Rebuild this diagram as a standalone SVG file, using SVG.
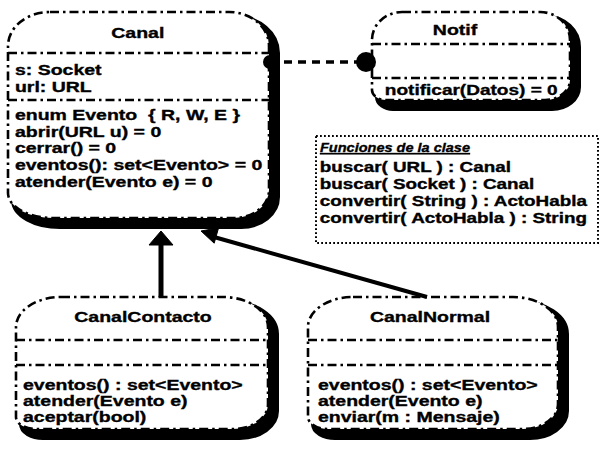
<svg xmlns="http://www.w3.org/2000/svg" width="601" height="450" viewBox="0 0 601 450">
  <style>
    .shadow { fill: #000; stroke: #000; stroke-width: 8; stroke-linejoin: round; }
    .box { fill: #fff; stroke: #000; stroke-width: 2.6; stroke-dasharray: 9 4 2.5 4; }
    .sep { fill: none; stroke: #000; stroke-width: 2.4; stroke-dasharray: 9 4 2.5 4; }
    .note { fill: #fff; stroke: #000; stroke-width: 2; stroke-dasharray: 1.8 2.2; }
    text { font-family: "Liberation Sans", Arial, sans-serif; font-weight: bold; font-size: 15px; fill: #000; stroke: #000; stroke-width: 0.35; }
    .name { text-anchor: middle; }
    .fn { font-size: 14.5px; }
    .fn-title { font-style: italic; text-decoration: underline; font-size: 13px; }
    .line { fill: none; stroke: #000; }
    .head { fill: #000; stroke: #000; stroke-width: 1; stroke-linejoin: round; }
  </style>

  <defs>
    <!-- class outlines: large top corners, tighter bottom-left corner -->
    <path id="shape-canal" d="M50,12 H229 A40,34 0 0 1 269,46 V190 A35,28 0 0 1 234,218 H53 A45,25 0 0 1 8,193 V46 A42,34 0 0 1 50,12 Z"/>
    <path id="shape-notif" d="M402,12 H540 A30,28 0 0 1 570,40 V80 A25,20 0 0 1 545,100 H386 A14,10 0 0 1 372,90 V40 A30,28 0 0 1 402,12 Z"/>
    <path id="shape-contacto" d="M61,297 H223 A45,30 0 0 1 268,327 V404 A35,25 0 0 1 233,429 H36 A20,12 0 0 1 16,417 V327 A45,30 0 0 1 61,297 Z"/>
    <path id="shape-normal" d="M353,297 H513 A45,30 0 0 1 558,327 V404 A35,25 0 0 1 523,429 H328 A20,12 0 0 1 308,417 V327 A45,30 0 0 1 353,297 Z"/>
  </defs>

  <rect width="601" height="450" fill="#fff"/>

  <!-- Canal -->
  <g id="canal">
    <use href="#shape-canal" class="shadow" transform="translate(7 7)"/>
    <use href="#shape-canal" class="box"/>
    <line class="sep" x1="8" y1="53" x2="269" y2="53"/>
    <line class="sep" x1="8" y1="100" x2="269" y2="100"/>
    <g transform="scale(1.3 1)">
      <text class="name" x="106" y="38">Canal</text>
      <text x="11.5" y="75">s: Socket</text>
      <text x="11.5" y="92">url: URL</text>
      <text x="11.5" y="120">enum Evento&#160; { R, W, E }</text>
      <text x="11.5" y="137">abrir(URL u) = 0</text>
      <text x="11.5" y="153">cerrar() = 0</text>
      <text x="11.5" y="170">eventos(): set&lt;Evento&gt; = 0</text>
      <text x="11.5" y="187">atender(Evento e) = 0</text>
    </g>
  </g>

  <!-- Notif -->
  <g id="notif">
    <use href="#shape-notif" class="shadow" transform="translate(7 7)"/>
    <use href="#shape-notif" class="box"/>
    <line class="sep" x1="372" y1="44" x2="570" y2="44"/>
    <line class="sep" x1="372" y1="78" x2="570" y2="78"/>
    <g transform="scale(1.3 1)">
      <text class="name" x="350" y="35">Notif</text>
      <text x="296" y="95" textLength="133" lengthAdjust="spacingAndGlyphs">notificar(Datos) = 0</text>
    </g>
  </g>

  <!-- Class functions note -->
  <g id="funciones">
    <rect class="note" x="316" y="136" width="282" height="107"/>
    <text class="fn-title" x="320" y="152" textLength="150" lengthAdjust="spacingAndGlyphs">Funciones de la clase</text>
    <g transform="scale(1.3 1)">
      <text class="fn" x="246" y="172">buscar( URL ) : Canal</text>
      <text class="fn" x="246" y="189">buscar( Socket ) : Canal</text>
      <text class="fn" x="246" y="206">convertir( String ) : ActoHabla</text>
      <text class="fn" x="246" y="223">convertir( ActoHabla ) : String</text>
    </g>
  </g>

  <!-- CanalContacto -->
  <g id="canal-contacto">
    <use href="#shape-contacto" class="shadow" transform="translate(7 7)"/>
    <use href="#shape-contacto" class="box"/>
    <line class="sep" x1="16" y1="340" x2="268" y2="340"/>
    <line class="sep" x1="16" y1="365" x2="268" y2="365"/>
    <g transform="scale(1.3 1)">
      <text class="name" x="110" y="322">CanalContacto</text>
      <text x="17.7" y="390">eventos() : set&lt;Evento&gt;</text>
      <text x="17.7" y="406">atender(Evento e)</text>
      <text x="17.7" y="422">aceptar(bool)</text>
    </g>
  </g>

  <!-- CanalNormal -->
  <g id="canal-normal">
    <use href="#shape-normal" class="shadow" transform="translate(7 7)"/>
    <use href="#shape-normal" class="box"/>
    <line class="sep" x1="308" y1="340" x2="558" y2="340"/>
    <line class="sep" x1="308" y1="365" x2="558" y2="365"/>
    <g transform="scale(1.3 1)">
      <text class="name" x="330.8" y="322">CanalNormal</text>
      <text x="244.6" y="390">eventos() : set&lt;Evento&gt;</text>
      <text x="244.6" y="406">atender(Evento e)</text>
      <text x="244.6" y="422">enviar(m : Mensaje)</text>
    </g>
  </g>

  <!-- Connectors -->
  <g id="connectors">
    <!-- Canal uses Notif -->
    <line class="line" x1="284" y1="62" x2="358" y2="62" stroke-width="3.5" stroke-dasharray="8 6"/>
    <circle cx="270" cy="62" r="7" fill="#000"/>
    <circle cx="366" cy="62" r="10" fill="#000"/>
    <!-- CanalContacto generalizes to Canal -->
    <line class="line" x1="161" y1="297" x2="161" y2="244" stroke-width="5"/>
    <polygon class="head" points="161,231 149,245 173,245"/>
    <!-- CanalNormal generalizes to Canal -->
    <line class="line" x1="427" y1="297" x2="214" y2="237" stroke-width="4"/>
    <polygon class="head" points="201,231 214.2,243.2 218.6,227.8"/>
  </g>
</svg>
